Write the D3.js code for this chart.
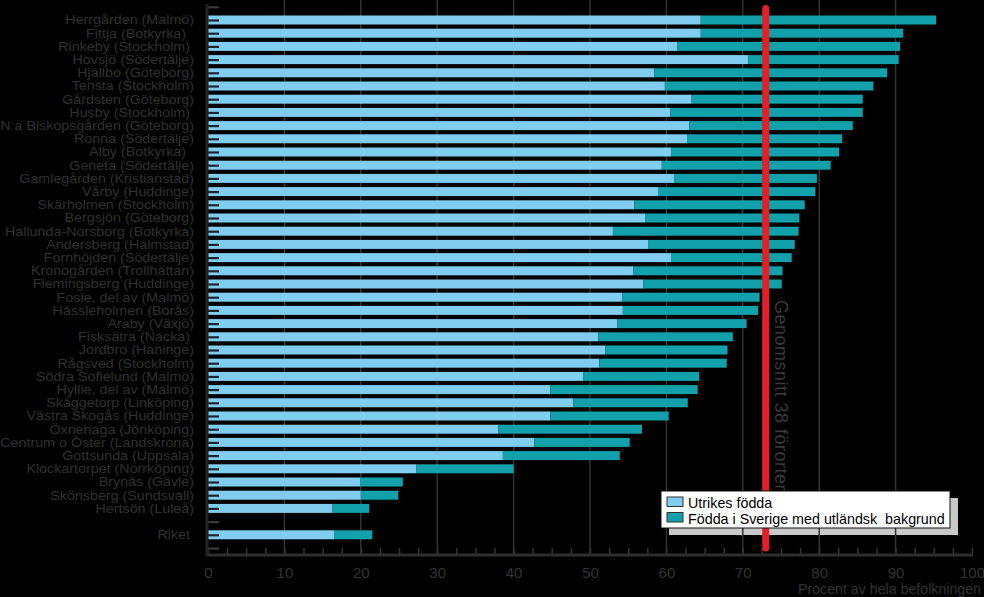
<!DOCTYPE html>
<html><head><meta charset="utf-8">
<script src="https://cdn.jsdelivr.net/npm/d3@7/dist/d3.min.js"></script>
<style>
html,body{margin:0;padding:0;background:#000;}
svg{display:block;font-family:"Liberation Sans",Arial,sans-serif;}
</style></head>
<body>
<svg id="chart" width="984" height="597"></svg>
<script>
// ---- data ----
const categories = [
  "Herrgården (Malmö)", "Fittja (Botkyrka)\u00a0\u00a0", "Rinkeby (Stockholm)\u00a0", "Hovsjö (Södertälje)",
  "Hjällbo (Göteborg)", "Tensta (Stockholm)", "Gårdsten (Göteborg)", "Husby (Stockholm)\u00a0",
  "N:a Biskopsgården (Göteborg)", "Ronna (Södertälje)", "Alby (Botkyrka)\u00a0\u00a0", "Geneta (Södertälje)",
  "Gamlegården (Kristianstad)", "Vårby (Huddinge)", "Skärholmen (Stockholm)", "Bergsjön (Göteborg)",
  "Hallunda-Norsborg (Botkyrka)", "Andersberg (Halmstad)", "Fornhöjden (Södertälje)", "Kronogården (Trollhättan)",
  "Flemingsberg (Huddinge)", "Fosie, del av (Malmö)", "Hässleholmen (Borås)", "Araby (Växjö)",
  "Fisksätra (Nacka)\u00a0", "Jordbro (Haninge)", "Rågsved (Stockholm)", "Södra Sofielund (Malmö)",
  "Hyllie, del av (Malmö)", "Skäggetorp (Linköping)", "Västra Skogås (Huddinge)", "Öxnehaga (Jönköping)",
  "Centrum o Öster (Landskrona)", "Gottsunda (Uppsala)", "Klockartorpet (Norrköping)", "Brynäs (Gävle)",
  "Skönsberg (Sundsvall)", "Hertsön (Luleå)", "Riket\u00a0"
];
// share of population born abroad (%)
const utrikesFodda = [
  64.5, 64.5, 61.4, 70.7, 58.4, 59.8, 63.3, 60.5, 63.0, 62.7,
  60.6, 59.4, 61.0, 58.9, 55.8, 57.2, 53.0, 57.6, 60.6, 55.7,
  57.0, 54.2, 54.3, 53.6, 51.1, 52.0, 51.2, 49.1, 44.8, 47.8,
  44.8, 38.0, 42.7, 38.6, 27.3, 19.9, 20.0, 16.3, 16.5
];
// total share with foreign background (%) -> stacked total
const totalUtlBakgrund = [
  95.3, 91.0, 90.6, 90.4, 88.9, 87.1, 85.7, 85.7, 84.4, 83.0,
  82.6, 81.5, 79.7, 79.5, 78.1, 77.4, 77.3, 76.8, 76.4, 75.2,
  75.1, 72.2, 72.0, 70.5, 68.7, 68.0, 67.9, 64.3, 64.1, 62.8,
  60.3, 56.8, 55.2, 53.9, 40.0, 25.5, 24.9, 21.1, 21.5
];
const averageValue = 73; // Genomsnitt 38 förorter
const xTicksMajor = [0, 10, 20, 30, 40, 50, 60, 70, 80, 90, 100];
const gridValues = [10, 20, 30, 40, 50, 60, 70, 80, 90];
const seriesNames = ["Utrikes födda", "Födda i Sverige med utländsk  bakgrund"];
const colors = ["#80cdef", "#12a0aa"];

// ---- layout ----
const svg = d3.select("#chart");
const x = d3.scaleLinear().domain([0, 100]).range([208, 972]);
const rowKeys = ["_top", ...categories.slice(0, 38), "_gap", categories[38], "_bottom"];
const y = d3.scalePoint().domain(rowKeys).range([6.8, 548]);
const barH = 9;
const rows = categories.map((c, i) => ({name: c, a: utrikesFodda[i], t: totalUtlBakgrund[i]}));

// legend shadow (drawn under gridlines)
const lg = {x: 661, y: 491, w: 289, h: 37};
svg.append("rect").attr("x", lg.x + 8).attr("y", lg.y + 7).attr("width", lg.w).attr("height", lg.h)
  .attr("fill", "#c9c9c9");

// gridlines
svg.append("g").selectAll("line").data(gridValues).join("line")
  .attr("x1", d => x(d)).attr("x2", d => x(d)).attr("y1", 0).attr("y2", 554)
  .attr("stroke", "#333").attr("stroke-width", 1.5);

// bars
const bars = svg.append("g");
bars.selectAll("rect.a").data(rows).join("rect").attr("class", "a")
  .attr("x", x(0)).attr("y", d => y(d.name) - barH / 2)
  .attr("width", d => x(d.a) - x(0)).attr("height", barH).attr("fill", colors[0]);
bars.selectAll("rect.b").data(rows).join("rect").attr("class", "b")
  .attr("x", d => x(d.a)).attr("y", d => y(d.name) - barH / 2)
  .attr("width", d => x(d.t) - x(d.a)).attr("height", barH).attr("fill", colors[1]);

// y axis ticks (pointing inward)
const yAxis = d3.axisRight(y).tickSize(11).tickFormat("");
const gy = svg.append("g").attr("transform", "translate(208,0)").call(yAxis);
gy.select(".domain").remove();
gy.selectAll(".tick line").attr("stroke", "#1c2230").attr("stroke-width", 2.2);
gy.selectAll(".tick").filter(d => d.startsWith("_")).select("line").attr("stroke", "#3a3a3a");

// category labels (slightly widened glyphs, as in the original)
svg.append("g").selectAll("text").data(rows).join("text")
  .attr("transform", d => `translate(194,${y(d.name) + 1}) scale(1.1,1)`)
  .attr("text-anchor", "end").attr("dominant-baseline", "middle")
  .attr("font-size", 13)
  .attr("fill", "#303030").style("white-space", "pre")
  .text(d => d.name);

// x axis: minor ticks
const xMinor = d3.axisBottom(x).tickValues(d3.range(0, 100.01, 2.5)).tickSizeInner(-6).tickSizeOuter(0).tickFormat("");
const gx = svg.append("g").attr("transform", "translate(0,554)").call(xMinor);
gx.select(".domain").remove();
gx.selectAll(".tick line").attr("stroke", "#333").attr("stroke-width", 1.5);
// x axis labels
const xLab = d3.axisBottom(x).tickValues(xTicksMajor).tickSize(0).tickPadding(13).tickFormat(d3.format("d"));
const gx2 = svg.append("g").attr("transform", "translate(0,554)").call(xLab);
gx2.select(".domain").remove();
gx2.selectAll("text").attr("fill", "#333").attr("font-size", 15).attr("font-family", "Liberation Sans, Arial, sans-serif");

// axis lines
svg.append("line").attr("x1", 206).attr("x2", 973).attr("y1", 555).attr("y2", 555)
  .attr("stroke", "#2e2e2e").attr("stroke-width", 3);
svg.append("line").attr("x1", 207).attr("x2", 207).attr("y1", 4).attr("y2", 556)
  .attr("stroke", "#222").attr("stroke-width", 3);

svg.append("text").attr("x", 981).attr("y", 594).attr("text-anchor", "end")
  .attr("font-size", 14.2).attr("fill", "#333").text("Procent av hela befolkningen");

// average line
svg.append("line").attr("x1", x(averageValue)).attr("x2", x(averageValue))
  .attr("y1", 8.5).attr("y2", 548).attr("stroke", "#e3202a").attr("stroke-width", 7)
  .attr("stroke-linecap", "round");
svg.append("text")
  .attr("transform", `translate(${x(averageValue) + 9},300) rotate(90)`)
  .attr("font-size", 18).attr("letter-spacing", 0.5).attr("fill", "#3a3a3a")
  .text("Genomsnitt 38 förorter");

// legend
svg.append("rect").attr("x", lg.x).attr("y", lg.y).attr("width", lg.w).attr("height", lg.h)
  .attr("fill", "#fff").attr("stroke", "#111").attr("stroke-width", 1);
const li = svg.append("g").selectAll("g").data(seriesNames).join("g")
  .attr("transform", (d, i) => `translate(${lg.x + 6},${lg.y + 6 + i * 15.5})`);
li.append("rect").attr("width", 16).attr("height", 9.5)
  .attr("fill", (d, i) => colors[i]).attr("stroke", "#333").attr("stroke-width", 1);
li.append("text").attr("x", 21).attr("y", 11).attr("font-size", 14.3).attr("fill", "#000")
  .style("white-space", "pre").text(d => d);
</script>
</body></html>
